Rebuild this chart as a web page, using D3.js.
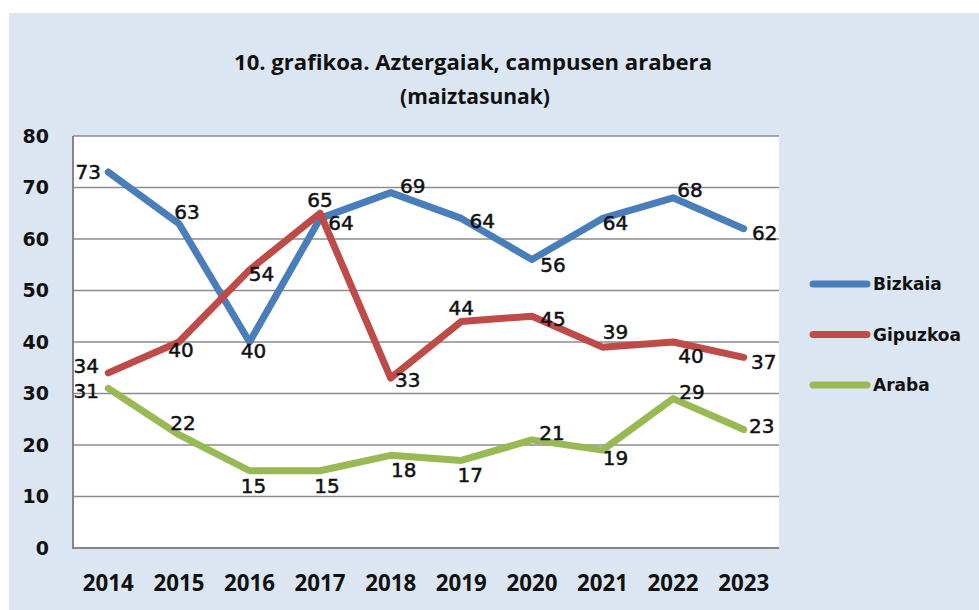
<!DOCTYPE html>
<html>
<head>
<meta charset="utf-8">
<script src="https://cdn.jsdelivr.net/npm/d3@7"></script>
<style>
  html, body { margin: 0; padding: 0; background: #fff; }
  svg { display: block; }
</style>
</head>
<body>
<svg id="chart" width="979" height="610"></svg>
<script>
// data
var years = ["2014", "2015", "2016", "2017", "2018", "2019", "2020", "2021", "2022", "2023"];
var bizkaia = [73, 63, 40, 64, 69, 64, 56, 64, 68, 62];
var gipuzkoa = [34, 40, 54, 65, 33, 44, 45, 39, 40, 37];
var araba = [31, 22, 15, 15, 18, 17, 21, 19, 29, 23];
var seriesNames = ["Bizkaia", "Gipuzkoa", "Araba"];
var yTicks = [0, 10, 20, 30, 40, 50, 60, 70, 80];

var svg = d3.select("#chart"),
    width = 979,
    height = 610,
    plot = {left: 73, right: 779, top: 136, bottom: 548};

var colors = ["#4a7ebb", "#be4b48", "#98b954"];

// label nudges (centre of label relative to point), placed like the excel labels
var labelNudge = [
  [[-20, 0], [8, -12], [4, 9], [21, 4], [22, -7], [21, 2], [21, 5], [13, 4], [17, -8], [21, 4]],
  [[-22, -7], [2, 8], [12, 4], [0, -13], [17, 2], [0, -14], [21, 3], [13, -15], [18, 14], [20, 4]],
  [[-22, 2], [4, -12], [4, 15], [7, 15], [13, 14], [9, 14], [20, -7], [13, 8], [19, -7], [18, -4]]
];

var series = [bizkaia, gipuzkoa, araba].map(function(vals, i) {
  return {name: seriesNames[i], color: colors[i], values: vals, nudge: labelNudge[i]};
});

// background panel
svg.append("rect")
  .attr("x", 9).attr("y", 13)
  .attr("width", width - 9).attr("height", height - 13)
  .attr("fill", "#dce6f2");

// scales
var x = d3.scaleBand().domain(years).range([plot.left, plot.right]);
var y = d3.scaleLinear().domain([0, 80]).range([plot.bottom, plot.top]);
function cx(d) { return x(d) + x.bandwidth() / 2; }

// plot area
svg.append("rect")
  .attr("x", plot.left).attr("y", plot.top)
  .attr("width", plot.right - plot.left).attr("height", plot.bottom - plot.top)
  .attr("fill", "#fff");

// gridlines
svg.append("g")
  .selectAll("line")
  .data(yTicks.filter(function(t) { return t > 0; }))
  .join("line")
    .attr("x1", plot.left).attr("x2", plot.right)
    .attr("y1", function(d) { return y(d); })
    .attr("y2", function(d) { return y(d); })
    .attr("stroke", "#8c8c8c")
    .attr("stroke-width", 1.5);

// axis lines
svg.append("line")
  .attr("x1", plot.left).attr("x2", plot.left)
  .attr("y1", plot.top).attr("y2", plot.bottom)
  .attr("stroke", "#868686").attr("stroke-width", 2);
svg.append("line")
  .attr("x1", plot.left - 1).attr("x2", plot.right)
  .attr("y1", plot.bottom).attr("y2", plot.bottom)
  .attr("stroke", "#868686").attr("stroke-width", 2);

// y axis labels
svg.append("g")
  .selectAll("text")
  .data(yTicks)
  .join("text")
    .attr("x", 49)
    .attr("y", function(d) { return y(d); })
    .attr("dy", "0.36em")
    .attr("text-anchor", "end")
    .attr("font-family", "DejaVu Sans, Verdana, sans-serif")
    .attr("font-weight", "bold")
    .attr("font-size", 19)
    .attr("fill", "#111")
    .text(function(d) { return d; });

// x axis labels
svg.append("g")
  .selectAll("text")
  .data(years)
  .join("text")
    .attr("x", cx)
    .attr("y", 583)
    .attr("dy", "0.36em")
    .attr("text-anchor", "middle")
    .attr("font-family", "Open Sans, sans-serif")
    .attr("font-weight", "bold")
    .attr("font-size", 23)
    .attr("textLength", 51)
    .attr("lengthAdjust", "spacingAndGlyphs")
    .attr("fill", "#111")
    .text(function(d) { return d; });

// title
var title = svg.append("g")
  .attr("font-family", "Open Sans, sans-serif")
  .attr("font-weight", "bold")
  .attr("font-size", 22)
  .attr("fill", "#111")
  .attr("text-anchor", "middle");
title.append("text")
  .attr("x", 473).attr("y", 62).attr("dy", "0.36em")
  .attr("textLength", 478).attr("lengthAdjust", "spacingAndGlyphs")
  .text("10. grafikoa. Aztergaiak, campusen arabera");
title.append("text")
  .attr("x", 475).attr("y", 96).attr("dy", "0.36em")
  .attr("textLength", 150).attr("lengthAdjust", "spacingAndGlyphs")
  .text("(maiztasunak)");

// lines
var line = d3.line()
  .x(function(d, i) { return cx(years[i]); })
  .y(function(d) { return y(d); });

svg.append("g")
  .selectAll("path")
  .data(series)
  .join("path")
    .attr("d", function(s) { return line(s.values); })
    .attr("fill", "none")
    .attr("stroke", function(s) { return s.color; })
    .attr("stroke-width", 7)
    .attr("stroke-linejoin", "round")
    .attr("stroke-linecap", "round");

// data labels
series.forEach(function(s) {
  svg.append("g")
    .selectAll("text")
    .data(s.values)
    .join("text")
      .attr("x", function(d, i) { return cx(years[i]) + s.nudge[i][0]; })
      .attr("y", function(d, i) { return y(d) + s.nudge[i][1]; })
      .attr("dy", "0.36em")
      .attr("text-anchor", "middle")
      .attr("font-family", "DejaVu Sans, Verdana, sans-serif")
      .attr("font-size", 20)
      .attr("fill", "#111")
      .attr("stroke", "#111")
      .attr("stroke-width", 0.5)
      .text(function(d) { return d; });
});

// legend
var legend = svg.append("g")
  .selectAll("g")
  .data(series)
  .join("g")
    .attr("transform", function(d, i) { return "translate(0," + (284 + i * 50.5) + ")"; });
legend.append("line")
  .attr("x1", 813).attr("x2", 867)
  .attr("stroke", function(d) { return d.color; })
  .attr("stroke-width", 7)
  .attr("stroke-linecap", "round");
legend.append("text")
  .attr("x", 873)
  .attr("dy", "0.36em")
  .attr("font-family", "DejaVu Sans, Verdana, sans-serif")
  .attr("font-weight", "bold")
  .attr("font-size", 17)
  .attr("fill", "#111")
  .text(function(d) { return d.name; });
</script>
</body>
</html>
